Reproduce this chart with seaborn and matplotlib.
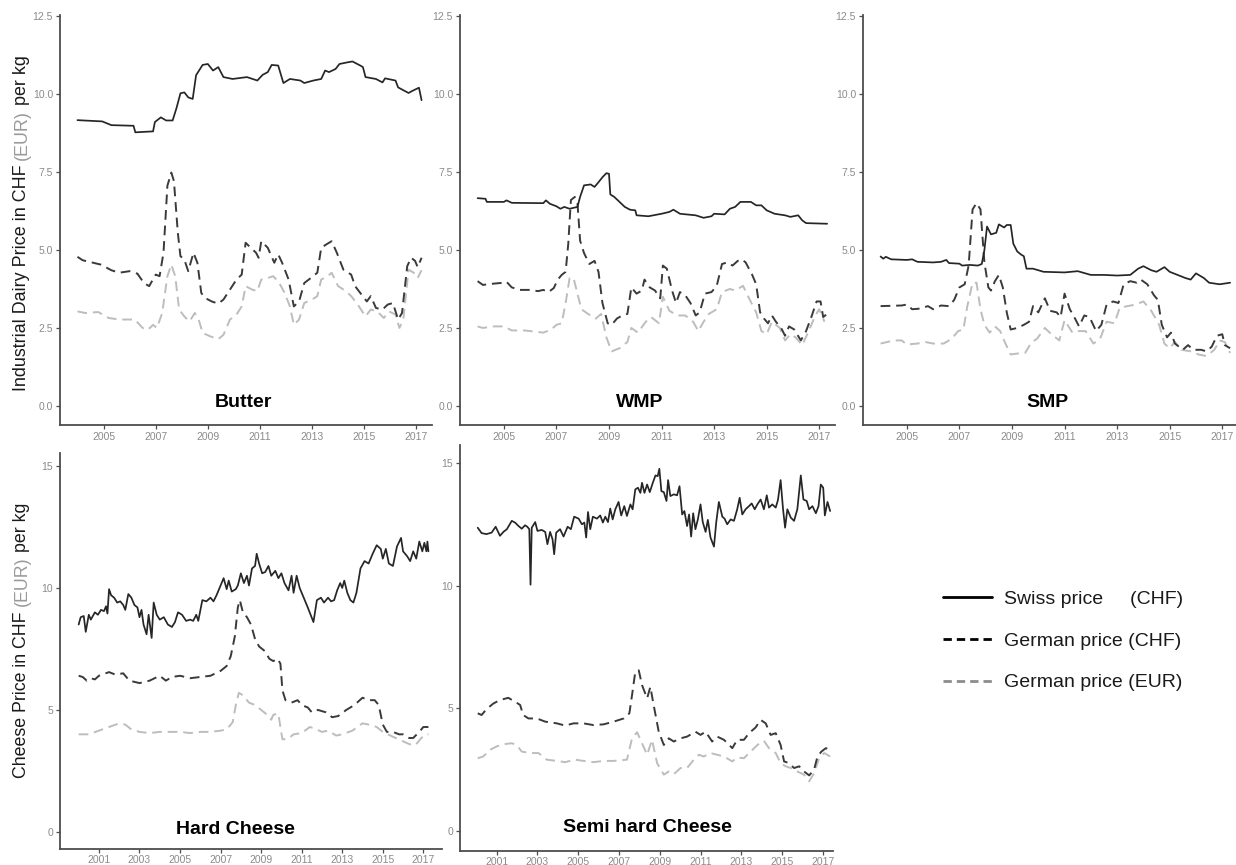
import matplotlib
matplotlib.use("Agg")
import matplotlib.pyplot as plt
from matplotlib.lines import Line2D
import seaborn as sns
import pandas as pd

# ---------------- Industrial dairy products (CHF / EUR per kg) ----------------
butter_swiss_t = [2004.0, 2004.95, 2005.3, 2006.15, 2006.22, 2006.9, 2006.97, 2007.2, 2007.4, 2007.65,
                  2007.8, 2007.95, 2008.1, 2008.25, 2008.42, 2008.55, 2008.8, 2009.0, 2009.2, 2009.4,
                  2009.6, 2009.95, 2010.5, 2010.9, 2011.1, 2011.3, 2011.45, 2011.7, 2011.9, 2012.15,
                  2012.55, 2012.7, 2013.05, 2013.35, 2013.5, 2013.65, 2013.9, 2014.05, 2014.4, 2014.55,
                  2014.85, 2014.95, 2015.05, 2015.45, 2015.7, 2015.8, 2016.2, 2016.3, 2016.7, 2016.85,
                  2017.1, 2017.2]
butter_swiss = [9.16, 9.12, 9.0, 8.98, 8.77, 8.8, 9.1, 9.25, 9.15, 9.15,
                9.55, 10.02, 10.05, 9.89, 9.84, 10.6, 10.93, 10.96, 10.75, 10.86,
                10.54, 10.48, 10.54, 10.43, 10.61, 10.7, 10.93, 10.91, 10.35, 10.48,
                10.43, 10.35, 10.43, 10.48, 10.75, 10.7, 10.8, 10.96, 11.02, 11.04,
                10.91, 10.86, 10.54, 10.48, 10.37, 10.5, 10.43, 10.21, 10.03, 10.1,
                10.2, 9.8]

butter_de_chf_t = [2004.0, 2004.2, 2004.6, 2004.9, 2005.3, 2005.6, 2006.0, 2006.3, 2006.55, 2006.75,
                   2007.0, 2007.15, 2007.3, 2007.45, 2007.6, 2007.7, 2007.85, 2007.95, 2008.1, 2008.25,
                   2008.45, 2008.6, 2008.75, 2008.9, 2009.15, 2009.4, 2009.6, 2009.85, 2010.1, 2010.3,
                   2010.45, 2010.65, 2010.85, 2010.95, 2011.05, 2011.3, 2011.55, 2011.7, 2011.85, 2012.1,
                   2012.3, 2012.5, 2012.7, 2012.95, 2013.2, 2013.35, 2013.55, 2013.75, 2013.95, 2014.2,
                   2014.5, 2014.65, 2014.85, 2015.1, 2015.25, 2015.45, 2015.7, 2015.9, 2016.1, 2016.3,
                   2016.45, 2016.65, 2016.8, 2016.95, 2017.05, 2017.2]
butter_de_chf = [4.78, 4.67, 4.59, 4.53, 4.35, 4.27, 4.32, 4.24, 3.94, 3.84,
                 4.21, 4.16, 4.91, 7.06, 7.48, 7.21, 5.55, 4.8, 4.69, 4.32,
                 4.91, 4.59, 3.62, 3.46, 3.35, 3.28, 3.41, 3.73, 4.05, 4.21,
                 5.23, 5.07, 4.91, 4.75, 5.28, 5.07, 4.59, 4.86, 4.59, 4.05,
                 3.19, 3.35, 3.94, 4.1, 4.27, 5.07, 5.18, 5.28, 4.91, 4.37,
                 4.21, 3.84, 3.62, 3.35, 3.52, 3.14, 3.09, 3.25, 3.3, 2.77,
                 2.98, 4.48, 4.75, 4.65, 4.45, 4.75]

butter_de_eur_t = [2004.0, 2004.3, 2004.8, 2005.2, 2005.6, 2006.2, 2006.5, 2006.7, 2006.9, 2007.05,
                   2007.25, 2007.45, 2007.6, 2007.75, 2007.9, 2008.1, 2008.3, 2008.5, 2008.65, 2008.8,
                   2009.1, 2009.4, 2009.6, 2009.85, 2010.1, 2010.3, 2010.45, 2010.7, 2010.9, 2011.05,
                   2011.3, 2011.5, 2011.7, 2011.95, 2012.15, 2012.3, 2012.5, 2012.7, 2013.0, 2013.2,
                   2013.35, 2013.6, 2013.75, 2014.0, 2014.3, 2014.5, 2014.75, 2015.05, 2015.25, 2015.5,
                   2015.75, 2015.95, 2016.2, 2016.35, 2016.5, 2016.7, 2016.9, 2017.05, 2017.2]
butter_de_eur = [3.03, 2.98, 3.01, 2.82, 2.77, 2.77, 2.5, 2.44, 2.6, 2.5,
                 2.98, 4.16, 4.53, 4.16, 3.09, 2.87, 2.71, 2.98, 2.77, 2.34,
                 2.23, 2.14, 2.28, 2.77, 2.93, 3.19, 3.84, 3.73, 3.68, 4.05,
                 4.1, 4.16, 4.0, 3.62, 3.19, 2.6, 2.77, 3.3, 3.41, 3.52,
                 4.05, 4.16, 4.27, 3.84, 3.68, 3.52, 3.25, 2.87, 3.09, 3.03,
                 2.82, 3.03, 2.93, 2.5, 2.77, 4.37, 4.27, 4.1, 4.35]

wmp_swiss_t = [2004.0, 2004.3, 2004.35, 2005.0, 2005.1, 2005.3, 2006.5, 2006.6, 2006.75, 2007.0,
               2007.15, 2007.3, 2007.5, 2007.8, 2007.9, 2008.05, 2008.3, 2008.45, 2008.6, 2008.75,
               2008.9, 2009.0, 2009.05, 2009.2, 2009.4, 2009.6, 2009.8, 2010.0, 2010.05, 2010.5,
               2011.0, 2011.3, 2011.45, 2011.7, 2012.3, 2012.6, 2012.9, 2013.0, 2013.4, 2013.6,
               2013.8, 2014.0, 2014.4, 2014.6, 2014.8, 2015.0, 2015.3, 2015.7, 2015.9, 2016.2,
               2016.35, 2016.5, 2017.3]
wmp_swiss = [6.66, 6.64, 6.54, 6.54, 6.59, 6.51, 6.5, 6.59, 6.48, 6.4,
             6.32, 6.38, 6.32, 6.38, 6.7, 7.07, 7.1, 7.02, 7.17, 7.33,
             7.46, 7.44, 6.78, 6.7, 6.54, 6.38, 6.29, 6.27, 6.11, 6.08,
             6.16, 6.22, 6.29, 6.16, 6.11, 6.03, 6.08, 6.16, 6.14, 6.32,
             6.38, 6.54, 6.54, 6.43, 6.43, 6.27, 6.16, 6.11, 6.06, 6.11,
             5.95, 5.86, 5.84]

wmp_de_chf_t = [2004.0, 2004.2, 2004.6, 2005.0, 2005.1, 2005.3, 2005.6, 2006.0, 2006.3, 2006.5,
                2006.7, 2006.9, 2007.05, 2007.2, 2007.35, 2007.45, 2007.55, 2007.7, 2007.8, 2007.9,
                2008.05, 2008.25, 2008.45, 2008.6, 2008.75, 2008.95, 2009.1, 2009.3, 2009.5, 2009.7,
                2009.85, 2010.05, 2010.25, 2010.35, 2010.55, 2010.75, 2010.95, 2011.05, 2011.2, 2011.4,
                2011.55, 2011.7, 2011.9, 2012.1, 2012.3, 2012.45, 2012.65, 2012.9, 2013.1, 2013.3,
                2013.5, 2013.7, 2013.9, 2014.05, 2014.2, 2014.45, 2014.6, 2014.75, 2014.9, 2015.05,
                2015.2, 2015.35, 2015.55, 2015.7, 2015.85, 2016.05, 2016.3, 2016.5, 2016.7, 2016.9,
                2017.05, 2017.15, 2017.3]
wmp_de_chf = [4.0, 3.88, 3.92, 3.95, 3.98, 3.8, 3.72, 3.72, 3.68, 3.72,
              3.65, 3.78, 4.05, 4.2, 4.3, 5.2, 6.6, 6.7, 6.5, 5.3,
              4.9, 4.55, 4.65, 4.3, 3.3, 2.65, 2.6, 2.8, 2.9, 2.95,
              3.8, 3.6, 3.7, 4.05, 3.8, 3.7, 3.45, 4.5, 4.4, 3.7,
              3.3, 3.65, 3.55, 3.3, 2.9, 3.0, 3.6, 3.65, 3.85, 4.55,
              4.6, 4.5, 4.65, 4.7, 4.6, 4.2, 3.9, 3.0, 2.8, 2.65,
              2.9, 2.7, 2.5, 2.25, 2.55, 2.45, 2.1, 2.4, 2.85, 3.35,
              3.35, 2.85, 2.95]

wmp_de_eur_t = [2004.0, 2004.2, 2004.6, 2005.0, 2005.3, 2005.8, 2006.2, 2006.5, 2006.8, 2007.0,
                2007.2, 2007.35, 2007.5, 2007.65, 2007.8, 2007.95, 2008.2, 2008.5, 2008.7, 2008.9,
                2009.1, 2009.4, 2009.7, 2009.85, 2010.1, 2010.4, 2010.6, 2010.9, 2011.05, 2011.3,
                2011.6, 2011.9, 2012.2, 2012.4, 2012.6, 2012.8, 2013.1, 2013.3, 2013.6, 2013.8,
                2014.1, 2014.3, 2014.6, 2014.8, 2015.0, 2015.2, 2015.5, 2015.7, 2015.9, 2016.1,
                2016.35, 2016.6, 2016.85, 2017.0, 2017.2]
wmp_de_eur = [2.55, 2.5, 2.55, 2.55, 2.42, 2.42, 2.38, 2.35, 2.45, 2.6,
              2.65, 3.3, 4.1, 4.1, 3.6, 3.1, 2.95, 2.8, 2.95, 2.2,
              1.75, 1.85, 2.05, 2.5, 2.35, 2.7, 2.85, 2.65, 3.5, 3.05,
              2.9, 2.9, 2.7, 2.4, 2.7, 2.95, 3.1, 3.65, 3.75, 3.7,
              3.85, 3.5, 3.0, 2.4, 2.3, 2.7, 2.5, 2.1, 2.3, 2.2,
              1.95, 2.4, 2.9, 3.1, 2.7]

smp_swiss_t = [2004.0, 2004.1, 2004.2, 2004.4, 2005.0, 2005.2, 2005.4, 2006.0, 2006.3, 2006.5,
               2006.6, 2007.0, 2007.1, 2007.4, 2007.7, 2007.85, 2007.95, 2008.05, 2008.2, 2008.4,
               2008.5, 2008.7, 2008.8, 2008.95, 2009.05, 2009.2, 2009.35, 2009.45, 2009.55, 2009.8,
               2010.0, 2010.2, 2011.0, 2011.5, 2012.0, 2012.5, 2013.0, 2013.5, 2013.8, 2014.0,
               2014.3, 2014.5, 2014.8, 2015.0, 2015.3, 2015.6, 2015.8, 2016.0, 2016.3, 2016.5,
               2016.9, 2017.3]
smp_swiss = [4.79, 4.72, 4.78, 4.7, 4.68, 4.7, 4.62, 4.6, 4.62, 4.68,
             4.58, 4.56, 4.5, 4.52, 4.5, 4.55, 5.0, 5.75, 5.5, 5.55,
             5.82, 5.72, 5.8, 5.8, 5.2, 4.95, 4.85, 4.8, 4.4, 4.4,
             4.35, 4.3, 4.28, 4.32, 4.2, 4.2, 4.18, 4.2, 4.4, 4.48,
             4.35, 4.3, 4.45, 4.3, 4.2, 4.1, 4.05, 4.25, 4.1, 3.95,
             3.9, 3.95]

smp_de_chf_t = [2004.0, 2004.8, 2005.0, 2005.2, 2005.5, 2005.8, 2006.0, 2006.3, 2006.6, 2006.8,
                2007.0, 2007.2, 2007.35, 2007.5, 2007.65, 2007.8, 2007.95, 2008.1, 2008.2, 2008.35,
                2008.5, 2008.65, 2008.8, 2008.95, 2009.2, 2009.45, 2009.65, 2009.8, 2010.0, 2010.25,
                2010.45, 2010.7, 2010.85, 2011.0, 2011.2, 2011.4, 2011.55, 2011.75, 2011.95, 2012.2,
                2012.4, 2012.6, 2012.85, 2013.05, 2013.25, 2013.5, 2013.75, 2013.9, 2014.15, 2014.4,
                2014.55, 2014.7, 2014.9, 2015.05, 2015.2, 2015.5, 2015.7, 2015.9, 2016.2, 2016.4,
                2016.6, 2016.8, 2017.0, 2017.1, 2017.3]
smp_de_chf = [3.2, 3.22, 3.25, 3.1, 3.12, 3.2, 3.1, 3.22, 3.2, 3.4,
              3.8, 3.9, 4.5, 6.3, 6.5, 6.3, 4.6, 3.8, 3.7, 4.0,
              4.2, 3.8, 3.0, 2.45, 2.5, 2.6, 2.7, 3.2, 3.0, 3.45,
              3.05, 3.0, 2.85, 3.6, 3.1, 2.8, 2.55, 2.9, 2.85, 2.4,
              2.6, 3.25, 3.35, 3.3, 3.9, 4.0, 3.95, 4.05, 3.9, 3.55,
              3.4, 2.6, 2.2, 2.35, 2.0, 1.8, 1.95, 1.8, 1.8, 1.75,
              1.9, 2.25, 2.3, 1.95, 1.85]

smp_de_eur_t = [2004.0, 2004.5, 2004.8, 2005.0, 2005.4, 2005.7, 2006.0, 2006.4, 2006.7, 2006.95,
                2007.15, 2007.3, 2007.5, 2007.65, 2007.8, 2007.95, 2008.15, 2008.35, 2008.55, 2008.75,
                2008.95, 2009.2, 2009.5, 2009.75, 2009.95, 2010.25, 2010.5, 2010.8, 2011.0, 2011.3,
                2011.5, 2011.8, 2012.1, 2012.35, 2012.6, 2012.9, 2013.1, 2013.4, 2013.7, 2014.0,
                2014.3, 2014.6, 2014.8, 2015.0, 2015.2, 2015.45, 2015.8, 2016.1, 2016.4, 2016.7,
                2016.9, 2017.1, 2017.3]
smp_de_eur = [2.0, 2.1, 2.1, 1.97, 2.0, 2.05, 2.0, 2.0, 2.15, 2.4,
              2.45, 3.2, 3.95, 3.95, 3.1, 2.6, 2.35, 2.55, 2.4, 2.0,
              1.65, 1.68, 1.7, 2.05, 2.15, 2.5, 2.3, 2.1, 2.75, 2.35,
              2.4, 2.4, 2.0, 2.15, 2.7, 2.65, 3.15, 3.2, 3.25, 3.35,
              3.05, 2.6, 2.0, 1.85, 2.05, 1.8, 1.75, 1.65, 1.6, 1.8,
              2.1, 2.05, 1.7]

# ---------------- Cheese (CHF / EUR per kg) ----------------
hard_swiss_t = [2000.0, 2000.1, 2000.25, 2000.35, 2000.5, 2000.6, 2000.8, 2000.95, 2001.1, 2001.25,
                2001.35, 2001.42, 2001.5, 2001.6, 2001.75, 2001.9, 2002.05, 2002.2, 2002.3, 2002.45,
                2002.6, 2002.75, 2002.9, 2003.0, 2003.1, 2003.2, 2003.35, 2003.45, 2003.6, 2003.7,
                2003.85, 2004.0, 2004.2, 2004.4, 2004.6, 2004.75, 2004.9, 2005.1, 2005.3, 2005.5,
                2005.65, 2005.8, 2005.9, 2006.1, 2006.3, 2006.5, 2006.65, 2006.8, 2007.0, 2007.15,
                2007.3, 2007.4, 2007.55, 2007.75, 2007.85, 2008.0, 2008.15, 2008.3, 2008.4, 2008.55,
                2008.7, 2008.78, 2008.9, 2009.05, 2009.2, 2009.36, 2009.5, 2009.7, 2009.85, 2010.0,
                2010.15, 2010.35, 2010.5, 2010.6, 2010.75, 2010.9, 2011.05, 2011.3, 2011.58, 2011.75,
                2011.95, 2012.1, 2012.3, 2012.45, 2012.6, 2012.75, 2012.9, 2013.0, 2013.1, 2013.25,
                2013.4, 2013.55, 2013.7, 2013.9, 2014.1, 2014.3, 2014.5, 2014.7, 2014.9, 2015.0,
                2015.15, 2015.3, 2015.5, 2015.7, 2015.9, 2016.0, 2016.2, 2016.35, 2016.5, 2016.65,
                2016.8, 2016.95, 2017.05, 2017.15, 2017.2, 2017.25]
hard_swiss = [8.5, 8.8, 8.85, 8.2, 8.9, 8.7, 9.0, 8.9, 9.1, 9.05,
              9.25, 8.95, 9.95, 9.7, 9.6, 9.4, 9.45, 9.3, 9.1, 9.75,
              9.6, 9.3, 9.2, 8.8, 9.1, 8.5, 8.1, 8.9, 7.95, 9.4,
              8.9, 8.7, 8.8, 8.5, 8.4, 8.6, 9.0, 8.9, 8.65, 8.7,
              8.65, 8.9, 8.65, 9.5, 9.45, 9.6, 9.45, 9.7, 10.1, 10.4,
              9.95, 10.3, 9.85, 9.95, 10.1, 10.6, 10.2, 10.5, 10.1, 10.8,
              10.9, 11.4, 11.0, 10.6, 10.65, 10.9, 10.5, 10.7, 10.4, 10.6,
              10.2, 9.9, 10.5, 9.8, 10.5, 10.0, 9.7, 9.2, 8.6, 9.5,
              9.6, 9.4, 9.6, 9.45, 9.5, 9.9, 10.2, 10.0, 10.3, 9.8,
              9.5, 9.4, 9.8, 10.8, 11.1, 11.0, 11.4, 11.75, 11.6, 11.2,
              11.6, 11.0, 10.9, 11.7, 12.05, 11.5, 11.3, 11.1, 11.5, 11.2,
              11.9, 11.5, 11.85, 11.5, 11.9, 11.5]

hard_de_chf_t = [2000.0, 2000.2, 2000.4, 2000.6, 2000.8, 2001.0, 2001.5, 2001.8, 2002.2, 2002.5,
                 2003.0, 2003.5, 2004.0, 2004.3, 2004.6, 2005.0, 2005.5, 2006.0, 2006.5, 2007.0,
                 2007.3, 2007.5, 2007.7, 2007.85, 2007.95, 2008.1, 2008.3, 2008.5, 2008.7, 2008.9,
                 2009.2, 2009.4, 2009.6, 2009.8, 2009.95, 2010.05, 2010.2, 2010.5, 2010.8, 2011.0,
                 2011.3, 2011.5, 2011.8, 2012.2, 2012.5, 2012.8, 2013.2, 2013.6, 2014.0, 2014.3,
                 2014.6, 2014.8, 2015.0, 2015.2, 2015.5, 2015.8, 2016.0, 2016.3, 2016.5, 2016.8,
                 2017.0, 2017.25]
hard_de_chf = [6.4, 6.35, 6.2, 6.3, 6.25, 6.4, 6.55, 6.45, 6.5, 6.2,
               6.1, 6.2, 6.4, 6.2, 6.35, 6.4, 6.3, 6.35, 6.4, 6.6,
               6.8, 7.2, 8.0, 9.2, 9.5, 9.0, 8.8, 8.5, 7.9, 7.6,
               7.4, 7.1, 7.0, 7.1, 6.9, 5.8, 5.4, 5.3, 5.4, 5.2,
               5.1, 4.9, 5.0, 4.9, 4.7, 4.75, 5.0, 5.2, 5.5, 5.4,
               5.4, 5.2, 4.4, 4.1, 4.1, 4.0, 4.0, 3.85, 3.85, 4.1,
               4.3, 4.3]

hard_de_eur_t = [2000.0, 2000.5, 2001.0, 2001.5, 2002.0, 2002.3, 2002.6, 2003.0, 2003.5, 2004.0,
                 2005.0, 2005.5, 2006.0, 2006.5, 2007.0, 2007.3, 2007.6, 2007.75, 2007.9, 2008.1,
                 2008.4, 2008.7, 2009.0, 2009.3, 2009.5, 2009.6, 2009.85, 2009.95, 2010.05, 2010.3,
                 2010.6, 2011.0, 2011.4, 2011.6, 2012.0, 2012.3, 2012.7, 2013.0, 2013.5, 2014.0,
                 2014.3, 2014.7, 2015.0, 2015.5, 2015.9, 2016.3, 2016.6, 2016.9, 2017.1, 2017.25]
hard_de_eur = [4.0, 4.0, 4.15, 4.3, 4.45, 4.4, 4.2, 4.1, 4.05, 4.1,
               4.1, 4.05, 4.1, 4.1, 4.15, 4.2, 4.5, 5.2, 5.7, 5.6,
               5.3, 5.2, 5.0, 4.8, 4.6, 4.8, 4.85, 4.3, 3.8, 3.8,
               4.0, 4.05, 4.3, 4.25, 4.1, 4.15, 3.95, 4.0, 4.15, 4.45,
               4.4, 4.3, 4.1, 3.9, 3.75, 3.6, 3.55, 3.85, 4.0, 4.0]

semi_swiss_t = [2000.07, 2000.26, 2000.5, 2000.75, 2000.95, 2001.16, 2001.33, 2001.5, 2001.74, 2001.9,
                2002.07, 2002.23, 2002.39, 2002.5, 2002.6, 2002.66, 2002.72, 2002.89, 2003.0, 2003.21,
                2003.38, 2003.49, 2003.62, 2003.74, 2003.82, 2003.92, 2004.11, 2004.28, 2004.48, 2004.64,
                2004.8, 2005.02, 2005.18, 2005.3, 2005.39, 2005.48, 2005.59, 2005.72, 2005.92, 2006.08,
                2006.21, 2006.33, 2006.46, 2006.57, 2006.69, 2006.82, 2006.98, 2007.11, 2007.26, 2007.39,
                2007.56, 2007.67, 2007.8, 2007.93, 2008.05, 2008.13, 2008.25, 2008.38, 2008.51, 2008.66,
                2008.79, 2008.9, 2008.98, 2009.08, 2009.2, 2009.33, 2009.41, 2009.52, 2009.69, 2009.85,
                2009.97, 2010.1, 2010.21, 2010.34, 2010.44, 2010.54, 2010.64, 2010.75, 2010.87, 2011.0,
                2011.11, 2011.25, 2011.36, 2011.49, 2011.66, 2011.77, 2011.9, 2012.07, 2012.18, 2012.31,
                2012.48, 2012.64, 2012.8, 2012.92, 2013.05, 2013.21, 2013.38, 2013.51, 2013.66, 2013.79,
                2013.95, 2014.11, 2014.25, 2014.36, 2014.52, 2014.69, 2014.8, 2014.93, 2015.05, 2015.15,
                2015.26, 2015.43, 2015.59, 2015.75, 2015.92, 2016.05, 2016.21, 2016.33, 2016.49, 2016.66,
                2016.79, 2016.9, 2017.02, 2017.1, 2017.23, 2017.36]
semi_swiss = [12.36, 12.14, 12.1, 12.16, 12.4, 12.03, 12.19, 12.3, 12.64, 12.57,
              12.43, 12.32, 12.46, 12.4, 12.3, 10.04, 12.36, 12.59, 12.23, 12.27,
              12.19, 11.69, 12.19, 11.89, 11.28, 12.16, 12.3, 12.0, 12.4, 12.3,
              12.81, 12.73, 12.5, 12.57, 11.96, 13.0, 12.3, 12.81, 12.73, 12.86,
              12.57, 12.81, 12.59, 13.14, 12.7, 13.11, 13.41, 12.86, 13.24, 12.84,
              13.31, 13.11, 13.92, 13.99, 13.78, 14.19, 13.78, 14.12, 13.81, 14.19,
              14.49, 14.46, 14.76, 13.85, 13.81, 13.45, 14.3, 13.65, 13.72, 13.68,
              14.05, 12.9, 13.04, 12.43, 12.9, 12.0, 12.95, 12.3, 12.7, 13.31,
              12.59, 12.19, 12.68, 11.96, 11.59, 12.57, 13.41, 12.81, 12.73, 12.5,
              12.7, 12.64, 13.11, 13.58, 12.9, 13.11, 13.24, 13.35, 13.11, 13.31,
              13.51, 13.11, 13.68, 13.18, 13.31, 13.18, 13.49, 14.3, 13.11, 12.36,
              13.11, 12.77, 12.64, 13.11, 14.49, 13.51, 13.45, 13.11, 13.24, 12.95,
              13.24, 14.12, 13.99, 12.86, 13.41, 13.04]

semi_de_chf_t = [2000.07, 2000.26, 2000.5, 2000.84, 2001.16, 2001.57, 2001.9, 2002.15, 2002.3, 2002.56,
                 2002.97, 2003.38, 2003.95, 2004.36, 2004.77, 2005.26, 2005.75, 2006.25, 2006.74, 2007.23,
                 2007.51, 2007.64, 2007.8, 2007.97, 2008.13, 2008.38, 2008.54, 2008.7, 2008.95, 2009.2,
                 2009.44, 2009.69, 2010.02, 2010.34, 2010.75, 2011.0, 2011.25, 2011.57, 2011.82, 2012.15,
                 2012.56, 2012.8, 2013.13, 2013.38, 2013.7, 2013.95, 2014.2, 2014.44, 2014.69, 2014.93,
                 2015.1, 2015.34, 2015.59, 2015.84, 2016.08, 2016.33, 2016.57, 2016.74, 2016.93, 2017.15,
                 2017.36]
semi_de_chf = [4.8, 4.73, 4.97, 5.2, 5.34, 5.43, 5.27, 5.14, 4.73, 4.59,
               4.59, 4.46, 4.39, 4.3, 4.39, 4.39, 4.32, 4.35, 4.46, 4.59,
               4.8, 5.54, 6.49, 6.55, 5.95, 5.41, 5.88, 5.14, 4.05, 3.51,
               3.78, 3.65, 3.78, 3.85, 4.05, 3.92, 4.05, 3.65, 3.85, 3.72,
               3.38, 3.72, 3.72, 3.99, 4.22, 4.53, 4.39, 3.92, 3.99, 3.51,
               2.84, 2.77, 2.57, 2.64, 2.43, 2.27, 2.5, 3.04, 3.24, 3.38,
               3.31]

semi_de_eur_t = [2000.07, 2000.34, 2000.67, 2001.0, 2001.33, 2001.74, 2001.98, 2002.23, 2002.64, 2003.05,
                 2003.46, 2003.95, 2004.36, 2004.85, 2005.26, 2005.75, 2006.25, 2006.74, 2007.39, 2007.64,
                 2007.89, 2008.13, 2008.38, 2008.62, 2008.87, 2009.2, 2009.44, 2009.69, 2010.02, 2010.34,
                 2010.67, 2010.92, 2011.16, 2011.49, 2011.82, 2012.15, 2012.56, 2012.8, 2013.13, 2013.46,
                 2013.79, 2014.11, 2014.36, 2014.69, 2014.93, 2015.18, 2015.43, 2015.75, 2016.08, 2016.33,
                 2016.57, 2016.82, 2017.07, 2017.36]
semi_de_eur = [2.97, 3.04, 3.31, 3.45, 3.54, 3.58, 3.51, 3.24, 3.18, 3.18,
               2.91, 2.86, 2.81, 2.91, 2.86, 2.81, 2.86, 2.86, 2.91, 3.78,
               4.03, 3.58, 3.11, 3.72, 2.77, 2.3, 2.43, 2.32, 2.57, 2.57,
               2.91, 3.11, 3.04, 3.18, 3.11, 3.04, 2.84, 3.0, 2.97, 3.24,
               3.51, 3.68, 3.38, 3.18, 2.77, 2.64, 2.57, 2.43, 2.3, 2.03,
               2.36, 2.97, 3.18, 3.04]

top_yticks = [0.0, 2.5, 5.0, 7.5, 10.0, 12.5]
top_xticks = [2005, 2007, 2009, 2011, 2013, 2015, 2017]
cheese_yticks = [0, 5, 10, 15]
cheese_xticks = [2001, 2003, 2005, 2007, 2009, 2011, 2013, 2015, 2017]

legend_labels = ["Swiss price     (CHF)", "German price (CHF)", "German price (EUR)"]

# ---------------- styling ----------------
sns.set_theme(style="white")
plt.rcParams["font.family"] = ["Liberation Sans", "DejaVu Sans"]

W, H = 1236, 865
fig = plt.figure(figsize=(W / 100, H / 100), dpi=100)

SWISS_C = "#262626"
DE_CHF_C = "#3a3a3a"
DE_EUR_C = "#bdbdbd"
AXIS_C = "#4d4d4d"
TICK_C = "#8a8a8a"


def px_axes(left, top, right, bottom):
    return fig.add_axes([left / W, (H - bottom) / H, (right - left) / W, (bottom - top) / H])


def series_frame(t, v):
    return pd.DataFrame({"year": t, "price": v})


def draw_panel(ax, swiss, de_chf, de_eur, title, title_xy, xlim, ylim, xticks, yticks, yfmt,
               xpad=2):
    sns.lineplot(data=series_frame(*de_eur), x="year", y="price", ax=ax, color=DE_EUR_C,
                 lw=1.4, linestyle=(0, (5, 3)), errorbar=None)
    sns.lineplot(data=series_frame(*de_chf), x="year", y="price", ax=ax, color=DE_CHF_C,
                 lw=1.4, linestyle=(0, (5, 3)), errorbar=None)
    sns.lineplot(data=series_frame(*swiss), x="year", y="price", ax=ax, color=SWISS_C,
                 lw=1.25, errorbar=None)
    ax.set_xlim(*xlim)
    ax.set_ylim(*ylim)
    ax.set_xticks(xticks)
    ax.set_xticklabels([str(x) for x in xticks])
    ax.set_yticks(yticks)
    ax.set_yticklabels([yfmt.format(y) for y in yticks])
    ax.set_xlabel("")
    ax.set_ylabel("")
    for side in ("top", "right"):
        ax.spines[side].set_visible(False)
    for side in ("left", "bottom"):
        ax.spines[side].set_color(AXIS_C)
        ax.spines[side].set_linewidth(1.3)
    ax.tick_params(axis="both", which="major", length=3, width=0.9, color=AXIS_C,
                   labelcolor=TICK_C, labelsize=7.5, pad=2, left=True, bottom=True)
    ax.tick_params(axis="x", pad=xpad)
    ax.text(title_xy[0], title_xy[1], title, ha="center", va="center",
            fontsize=14, fontweight="bold", color="black")


top_xlim = (2003.33, 2017.6)
top_ylim = (-0.61, 12.53)

ax1 = px_axes(60, 15, 432, 425)
draw_panel(ax1, (butter_swiss_t, butter_swiss), (butter_de_chf_t, butter_de_chf),
           (butter_de_eur_t, butter_de_eur), "Butter", (2010.35, 0.12),
           top_xlim, top_ylim, top_xticks, top_yticks, "{:.1f}")

ax2 = px_axes(460, 15, 835, 425)
draw_panel(ax2, (wmp_swiss_t, wmp_swiss), (wmp_de_chf_t, wmp_de_chf),
           (wmp_de_eur_t, wmp_de_eur), "WMP", (2010.15, 0.12),
           top_xlim, top_ylim, top_xticks, top_yticks, "{:.1f}")

ax3 = px_axes(863, 15, 1238, 425)
draw_panel(ax3, (smp_swiss_t, smp_swiss), (smp_de_chf_t, smp_de_chf),
           (smp_de_eur_t, smp_de_eur), "SMP", (2010.35, 0.12),
           top_xlim, top_ylim, top_xticks, top_yticks, "{:.1f}")

ax4 = px_axes(60, 453, 442, 849)
draw_panel(ax4, (hard_swiss_t, hard_swiss), (hard_de_chf_t, hard_de_chf),
           (hard_de_eur_t, hard_de_eur), "Hard Cheese", (2007.75, 0.09),
           (1999.08, 2017.92), (-0.7, 15.53), cheese_xticks, cheese_yticks, "{:d}", xpad=1.5)

ax5 = px_axes(460, 445, 833, 851)
draw_panel(ax5, (semi_swiss_t, semi_swiss), (semi_de_chf_t, semi_de_chf),
           (semi_de_eur_t, semi_de_eur), "Semi hard Cheese", (2008.4, 0.14),
           (1999.2, 2017.5), (-0.81, 15.73), cheese_xticks, cheese_yticks, "{:d}", xpad=1)


# ---------------- y-axis titles with grey "(EUR)" ----------------
renderer = fig.canvas.get_renderer()


def rotated_label(x_px, y_center_px, parts, size):
    probe = fig.text(0, 0, "x x", fontsize=size, rotation=90)
    probe2 = fig.text(0, 0, "xx", fontsize=size, rotation=90)
    space = (probe.get_window_extent(renderer).height
             - probe2.get_window_extent(renderer).height)
    probe.remove()
    probe2.remove()
    texts, lengths = [], []
    for s, c in parts:
        t = fig.text(0, 0, s, fontsize=size, color=c, rotation=90, ha="center", va="center")
        texts.append(t)
        lengths.append(t.get_window_extent(renderer).height)
    total = sum(lengths) + space * (len(parts) - 1)
    y = y_center_px - total / 2
    for t, L in zip(texts, lengths):
        t.set_position((x_px / W, (y + L / 2) / H))
        y += L + space


rotated_label(22, H - 223, [("Industrial Dairy Price in CHF", "#1a1a1a"),
                            ("(EUR)", "#9a9a9a"), ("per kg", "#1a1a1a")], 12.9)
rotated_label(22, H - 640, [("Cheese Price in CHF", "#1a1a1a"),
                            ("(EUR)", "#9a9a9a"), ("per kg", "#1a1a1a")], 12.8)

# ---------------- legend ----------------
handles = [
    Line2D([], [], color="black", lw=2.0),
    Line2D([], [], color="black", lw=2.0, linestyle=(0, (3, 1.8))),
    Line2D([], [], color="#8c8c8c", lw=2.0, linestyle=(0, (3, 1.8))),
]
fig.legend(handles, legend_labels, loc="center left",
           bbox_to_anchor=(943 / W, (H - 641) / H), frameon=False,
           fontsize=14, handlelength=2.5, handletextpad=0.65, labelspacing=1.23,
           labelcolor="#1a1a1a", borderaxespad=0, borderpad=0)

fig.savefig("out.png", dpi=100)
